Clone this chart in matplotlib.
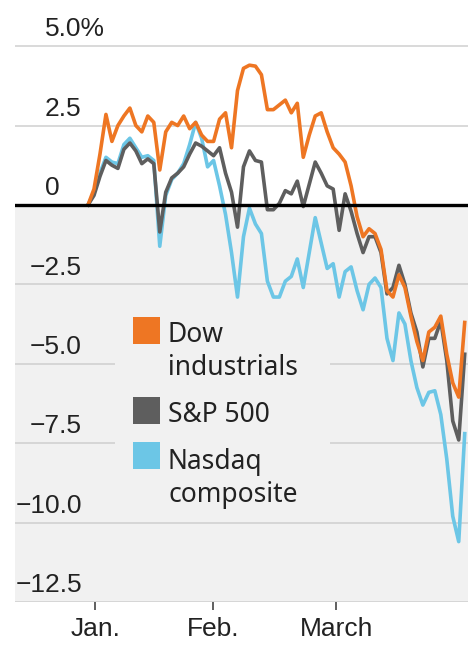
import matplotlib
matplotlib.use("Agg")
import matplotlib.pyplot as plt
from matplotlib.patches import Rectangle
from matplotlib.transforms import Affine2D, blended_transform_factory, offset_copy

# 数据：相对年初涨跌幅 (%)，按交易日
dow = [0, 0.5, 1.6, 2.85, 2.0, 2.5, 2.8, 3.05, 2.5, 2.3,
       2.8, 2.6, 1.1, 2.3, 2.6, 2.5, 2.8, 2.4, 2.6, 2.2,
       2.0, 2.0, 2.7, 2.9, 1.8, 3.6, 4.3, 4.4, 4.37, 4.1,
       3.0, 3.0, 3.15, 3.3, 2.9, 3.2, 1.5, 2.2, 2.8, 2.9,
       2.3, 1.8, 1.6, 1.35, 0.6, -0.37, -1.0, -0.75, -0.9, -1.4,
       -2.7, -2.9, -2.2, -2.6, -3.5, -4.3, -4.9, -4.0, -3.85, -3.5,
       -4.7, -5.6, -6.05, -3.7]
sp500 = [0, 0.3, 0.9, 1.4, 1.25, 1.15, 1.75, 1.95, 1.7, 1.3,
         1.45, 1.3, -0.85, 0.4, 0.85, 1.0, 1.2, 1.6, 1.95, 1.85,
         1.7, 1.55, 1.8, 1.0, 0.4, -0.7, 1.2, 1.7, 1.4, 1.35,
         -0.15, -0.15, 0.05, 0.45, 0.35, 0.75, -0.05, 0.65, 1.35, 1.0,
         0.6, 0.5, -0.8, 0.35, -0.2, -0.9, -1.5, -1.0, -1.0, -1.5,
         -2.8, -2.6, -1.9, -2.5, -3.4, -4.0, -5.1, -4.2, -4.2, -3.65,
         -4.9, -6.8, -7.4, -4.7]
nasdaq = [0, 0.4, 1.0, 1.5, 1.35, 1.3, 1.9, 2.1, 1.8, 1.5,
          1.55, 1.4, -1.3, 0.3, 0.8, 1.0, 1.3, 1.9, 2.6, 2.1,
          1.2, 1.4, 0.6, -0.3, -1.5, -2.9, -1.0, -0.1, -0.6, -0.9,
          -2.4, -2.9, -2.9, -2.4, -2.25, -1.7, -2.6, -1.5, -0.4, -1.2,
          -2.0, -1.85, -2.9, -2.1, -1.95, -2.7, -3.3, -2.5, -2.3, -2.6,
          -4.2, -4.9, -3.4, -3.75, -4.9, -5.75, -6.3, -5.9, -5.85, -6.6,
          -8.0, -9.8, -10.6, -7.2]

series_names = ["Dow\nindustrials", "S&P 500", "Nasdaq\ncomposite"]
y_ticks = [5.0, 2.5, 0, -2.5, -5.0, -7.5, -10.0, -12.5]
y_labels = ["5.0%", "2.5", "0", "\u22122.5", "\u22125.0", "\u22127.5", "\u221210.0", "\u221212.5"]
x_tick_pos = [1.2, 20.9, 41.5]
x_tick_labels = ["Jan.", "Feb.", "March"]

ORANGE = "#ee7623"
GRAY = "#5e5e5e"
BLUE = "#6cc6e6"
FILL = "#f1f1f1"

tick_font = ["Liberation Sans", "DejaVu Sans"]
legend_font = ["Noto Sans", "DejaVu Sans"]

fig = plt.figure(figsize=(4.75, 6.47), dpi=100)
ax = fig.add_axes([15 / 475, 45 / 647, 453 / 475, 594 / 647])
ax.set_xlim(-12.21, 63.55)
ax.set_ylim(-12.5, 6.2)
for s in ax.spines.values():
    s.set_visible(False)

# 背景与网格
ax.axhspan(-12.5, 0, color=FILL, zorder=0, lw=0)
for v in y_ticks:
    if v != 0:
        ax.axhline(v, color="#cfcfcf", lw=1.1, zorder=1)
ax.axhline(0, color="black", lw=2.4, zorder=5)

x = list(range(len(dow)))
ax.plot(x, nasdaq, color=BLUE, lw=2.6, zorder=2, solid_joinstyle="round")
ax.plot(x, sp500, color=GRAY, lw=2.6, zorder=3, solid_joinstyle="round")
ax.plot(x, dow, color=ORANGE, lw=2.6, zorder=4, solid_joinstyle="round")

# x 轴
ax.set_yticks([])
ax.set_xticks(x_tick_pos)
ax.set_xticklabels(x_tick_labels, family=tick_font, fontsize=19)
ax.tick_params(axis="x", length=6, width=1.2, color="#444444", pad=5, labelcolor="#222222")

# y 轴标签（像素坐标 x，数据坐标 y）
px = Affine2D().scale(1 / 475, -1 / 647).translate(0, 1) + fig.transFigure
ytr = offset_copy(blended_transform_factory(px, ax.transData), fig=fig, y=7, units="points")
for v, lab in zip(y_ticks, y_labels):
    if lab.startswith("\u2212"):
        ax.text(82, v, lab, transform=ytr, ha="right", va="baseline",
                family=tick_font, fontsize=19, color="#222222")
    else:
        ax.text(45, v, lab, transform=ytr, ha="left", va="baseline",
                family=tick_font, fontsize=19, color="#222222")

# 图例（末行基线位置）
ax.add_patch(Rectangle((115, 308), 215, 204, transform=px, color=FILL, zorder=6, lw=0))
swatch_y = [317, 397, 442]
text_y = [375, 422, 502]
for c, sy, ty, name in zip([ORANGE, GRAY, BLUE], swatch_y, text_y, series_names):
    ax.add_patch(Rectangle((133, sy), 27, 27, transform=px, color=c, zorder=7, lw=0))
    ax.text(168, ty, name, transform=px, ha="left", va="baseline", family=legend_font,
            fontsize=19, color="#222222", linespacing=1.24, zorder=7)

fig.savefig("out.png", dpi=100)
